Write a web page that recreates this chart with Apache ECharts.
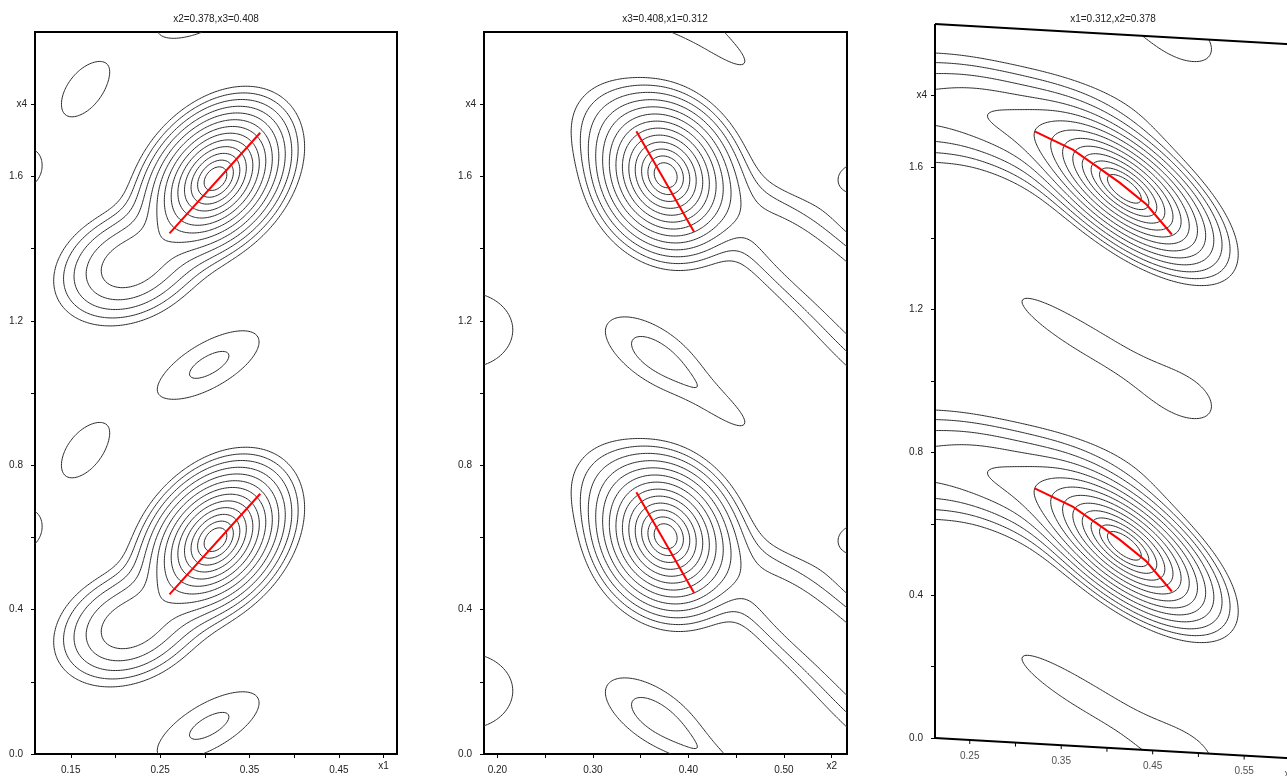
<!DOCTYPE html>
<html><head><meta charset="utf-8">
<script src="https://cdn.jsdelivr.net/npm/echarts@6/dist/echarts.min.js"></script>
<style>html,body{margin:0;padding:0;background:#fff;overflow:hidden}#c{width:1330px;height:830px}</style>
</head><body><div id="c"></div>
<script>
// ---------------- data ----------------
const titles = ['x2=0.378,x3=0.408', 'x3=0.408,x1=0.312', 'x1=0.312,x2=0.378'];
const axisNames = ['x1', 'x2', 'x3'];
const xRange1 = [0.11, 0.515];
const xRange2 = [0.186, 0.566];
const xRange3 = [0.212, 0.61];
const x4Range = [0, 2];
const xTicks1 = [0.15, 0.20, 0.25, 0.30, 0.35, 0.40, 0.45, 0.50];
const xLabels1 = [0.15, 0.25, 0.35, 0.45, 0.50];
const xTicks2 = [0.20, 0.25, 0.30, 0.35, 0.40, 0.45, 0.50, 0.55];
const xLabels2 = [0.20, 0.30, 0.40, 0.50, 0.55];
const xTicks3 = [0.25, 0.30, 0.35, 0.40, 0.45, 0.50, 0.55, 0.60];
const xLabels3 = [0.25, 0.35, 0.45, 0.55, 0.60];
const yTicks = [0, 0.2, 0.4, 0.6, 0.8, 1.0, 1.2, 1.4, 1.6, 1.8];
const yLabels = [0, 0.4, 0.8, 1.2, 1.6, 1.8];
const contourLevels = [0.023, 0.039, 0.063, 0.099, 0.149, 0.216, 0.301, 0.402, 0.516, 0.637, 0.755, 0.860, 0.941];
// density maxima: [centre x, centre x4, major axis dx, major axis dx4, minor axis dx, minor axis dx4, height]  (period 1 in x4)
const peaks1 = [
  [0.312, 0.594, 0.0286, 0.0788, -0.0223, 0.0496, 1.0],
  [0.2155, 0.3546, 0.0386, 0.0445, -0.0128, 0.0678, 0.20],
  [0.305, 0.078, 0.0485, 0.0693, -0.0112, 0.0480, 0.043],
  [0.165, 0.838, 0.0270, 0.0885, -0.0206, 0.0384, 0.03],
  [0.092, 0.617, 0.030, 0, 0, 0.070, 0.03]
];
const peaks2 = [
  [0.376, 0.603, 0.0188, -0.0864, 0.0272, 0.0416, 1.0],
  [0.313, 0.756, 0.0314, 0, 0, 0.083, 0.03],
  [0.365, 0.105, 0.0386, -0.0715, 0.0132, 0.0499, 0.045],
  [0.439, 0.953, 0.0330, -0.0683, 0.0077, 0.0262, 0.025],
  [0.5016, 0.41, 0.0481, -0.1069, 0.0168, 0.0530, 0.075],
  [0.601, 0.1745, 0.0518, -0.1371, 0.0222, 0.0588, 0.085],
  [0.580, 0.596, 0.0377, 0, 0, 0.072, 0.027],
  [0.1665, 0.1745, 0.068, 0, 0, 0.144, 0.03]
];
const peaks3 = [
  [0.4205, 0.566, 0.0425, -0.0790, 0.0141, 0.0499, 1.0],
  [0.15, 0.759, 0.15, 0, 0, 0.084, 0.11],
  [0.3156, 0.692, 0.0579, -0.0788, 0.0128, 0.0618, 0.09],
  [0.3593, 0.164, 0.0757, -0.1120, 0.0098, 0.0437, 0.029],
  [0.4304, 0.077, 0.0379, -0.0560, 0.0066, 0.0291, 0.008],
  [0.4851, 0.0006, 0.0347, -0.0415, 0.0102, 0.0558, 0.026]
];
const redLine1 = [[0.2605, 0.442], [0.362, 0.721]];
const redLine2 = [[0.3455, 0.725], [0.406, 0.446]];
const redLine3 = [[0.321, 0.715], [0.3626, 0.670], [0.3888, 0.627], [0.4139, 0.585], [0.4433, 0.528], [0.471, 0.448]];
const shear3 = 0.1455; // oblique section: x4 offset per unit of x3

// ---------------- contouring ----------------
function isolines(f, nx, ny, x0, y0, dx, dy, L) {
  const W = nx + 1, segs = [], pts = new Map(), adj = new Map();
  const H = (i, j) => (j * W + i) * 2, V = (i, j) => (j * W + i) * 2 + 1;
  function pt(id) {
    if (pts.has(id)) return;
    const base = id >> 1, i = base % W, j = (base - i) / W;
    if ((id & 1) === 0) { const a = f[j * W + i], b = f[j * W + i + 1], t = (L - a) / (b - a); pts.set(id, [x0 + (i + t) * dx, y0 + j * dy]); }
    else { const a = f[j * W + i], b = f[(j + 1) * W + i], t = (L - a) / (b - a); pts.set(id, [x0 + i * dx, y0 + (j + t) * dy]); }
  }
  function add(e1, e2) {
    pt(e1); pt(e2); const k = segs.length; segs.push([e1, e2]);
    if (!adj.has(e1)) adj.set(e1, []); adj.get(e1).push(k);
    if (!adj.has(e2)) adj.set(e2, []); adj.get(e2).push(k);
  }
  for (let j = 0; j < ny; j++) for (let i = 0; i < nx; i++) {
    const a = f[j * W + i], b = f[j * W + i + 1], c = f[(j + 1) * W + i + 1], d = f[(j + 1) * W + i];
    const idx = (a >= L ? 1 : 0) | (b >= L ? 2 : 0) | (c >= L ? 4 : 0) | (d >= L ? 8 : 0);
    if (idx === 0 || idx === 15) continue;
    const eB = H(i, j), eR = V(i + 1, j), eT = H(i, j + 1), eL = V(i, j);
    switch (idx) {
      case 1: case 14: add(eL, eB); break;
      case 2: case 13: add(eB, eR); break;
      case 3: case 12: add(eL, eR); break;
      case 4: case 11: add(eR, eT); break;
      case 6: case 9: add(eB, eT); break;
      case 7: case 8: add(eL, eT); break;
      case 5: { const m = (a + b + c + d) / 4; if (m >= L) { add(eB, eR); add(eT, eL); } else { add(eL, eB); add(eR, eT); } break; }
      case 10: { const m = (a + b + c + d) / 4; if (m >= L) { add(eL, eB); add(eR, eT); } else { add(eB, eR); add(eT, eL); } break; }
    }
  }
  const used = new Uint8Array(segs.length), lines = [];
  function walk(start, s) {
    const line = [pts.get(start)]; let cur = start;
    while (s >= 0) {
      used[s] = 1; const nxt = segs[s][0] === cur ? segs[s][1] : segs[s][0];
      line.push(pts.get(nxt)); cur = nxt; s = -1;
      for (const k of adj.get(cur)) if (!used[k]) { s = k; break; }
    }
    return line;
  }
  for (const [e, list] of adj) if (list.length === 1 && !used[list[0]]) lines.push(walk(e, list[0]));
  for (let s = 0; s < segs.length; s++) if (!used[s]) lines.push(walk(segs[s][0], s));
  return lines;
}
function buildContours(peaks, xr, nx, ny) {
  const W = nx + 1, dx = (xr[1] - xr[0]) / nx, dy = (x4Range[1] - x4Range[0]) / ny;
  const f = new Float64Array(W * (ny + 1));
  const P = peaks.map(([cx, cy, ax, ay, bx, by, amp]) => ({ cx, cy, ax, ay, bx, by, amp, det: ax * by - ay * bx }));
  for (let j = 0; j <= ny; j++) {
    const y = x4Range[0] + j * dy;
    for (let i = 0; i <= nx; i++) {
      const x = xr[0] + i * dx; let s = 0;
      for (const p of P) {
        const ddx = x - p.cx;
        for (let n = -2; n <= 3; n++) {
          const ddy = y - p.cy - n;
          const u = (ddx * p.by - ddy * p.bx) / p.det, v = (p.ax * ddy - p.ay * ddx) / p.det, r2 = u * u + v * v;
          if (r2 < 50) s += p.amp * Math.exp(-0.5 * r2);
        }
      }
      f[j * W + i] = s;
    }
  }
  const out = [];
  for (const L of contourLevels) out.push(...isolines(f, nx, ny, xr[0], x4Range[0], dx, dy, L));
  return out;
}

// ---------------- chart ----------------
const FONT = '"Liberation Sans", Arial, sans-serif';
const TXT = '#222';
const near = (a, b) => Math.abs(a - b) < 1e-6;
const xRanges = [xRange1, xRange2, xRange3];
const xTicksAll = [xTicks1, xTicks2, xTicks3];
const xLabelsAll = [xLabels1, xLabels2, xLabels3];
const peaksAll = [peaks1, peaks2, peaks3];
const redAll = [redLine1, redLine2, redLine3];
const shearOf = (p) => p === 2 ? (pt) => [pt[0], pt[1] - shear3 * (pt[0] - xRange3[0])] : (pt) => pt;
const txtStyle = { fontSize: 10, color: TXT, fontFamily: FONT };

const grids = [
  { left: 35, top: 32, width: 362, height: 722, show: true, borderColor: '#000', borderWidth: 2 },
  { left: 484, top: 32, width: 363, height: 722, show: true, borderColor: '#000', borderWidth: 2 },
  { left: 935, top: 24, width: 364, height: 785.4, show: false }
];
const xAxes = [0, 1, 2].map(p => ({
  type: 'value', gridIndex: p, min: xRanges[p][0], max: xRanges[p][1], show: p !== 2,
  splitLine: { show: false },
  axisLine: { show: true, onZero: false, lineStyle: { color: '#000', width: 2 } },
  axisTick: { show: true, inside: false, length: 4, customValues: xTicksAll[p], lineStyle: { color: '#000', width: 1 } },
  axisLabel: { show: true, customValues: xLabelsAll[p], margin: 7, ...txtStyle,
    rich: { v: { ...txtStyle, padding: [4, 0, 0, 0] }, n: { ...txtStyle } },
    formatter: v => near(v, xLabelsAll[p][xLabelsAll[p].length - 1]) ? '{n|' + axisNames[p] + '}' : '{v|' + v.toFixed(2) + '}' }
}));
const yAxes = [0, 1, 2].map(p => ({
  type: 'value', gridIndex: p, min: p === 2 ? -0.2 : 0, max: 2, interval: 0.2,
  splitLine: { show: false },
  axisLine: { show: p !== 2, onZero: false, lineStyle: { color: '#000', width: 2 } },
  axisTick: { show: true, inside: false, length: 4, customValues: yTicks, lineStyle: { color: '#000', width: 1 } },
  axisLabel: { show: true, customValues: yLabels, margin: 8, ...txtStyle,
    rich: { v: { ...txtStyle, padding: [0, 4, 0, 0] }, n: { ...txtStyle } },
    formatter: v => near(v, 1.8) ? '{n|x4}' : '{v|' + v.toFixed(1) + '}' }
}));

const series = [];
for (let p = 0; p < 3; p++) {
  const tr = shearOf(p);
  const polys = buildContours(peaksAll[p], xRanges[p], 220, 440).map(l => ({ coords: l.map(tr) }));
  series.push({ type: 'lines', coordinateSystem: 'cartesian2d', xAxisIndex: p, yAxisIndex: p, polyline: true,
    silent: true, z: 2, lineStyle: { color: '#2a2a2a', width: 1, opacity: 1 }, data: polys });
  const reds = [0, 1].map(k => ({ coords: redAll[p].map(q => tr([q[0], q[1] + k])) }));
  series.push({ type: 'lines', coordinateSystem: 'cartesian2d', xAxisIndex: p, yAxisIndex: p, polyline: true,
    silent: true, z: 3, lineStyle: { color: '#ff0000', width: 2, opacity: 1 }, data: reds });
}
// frame, ticks and labels of the oblique third panel
{
  const tr = shearOf(2), a = xRange3[0], b = xRange3[1];
  const frame = [[[a, 0], [a, 2]], [[a, 2], [b, 2]], [[a, 0], [b, 0]], [[b, 0], [b, 2]]].map(s => ({ coords: s.map(tr) }));
  series.push({ type: 'lines', coordinateSystem: 'cartesian2d', xAxisIndex: 2, yAxisIndex: 2, polyline: true,
    silent: true, z: 4, lineStyle: { color: '#000', width: 2, opacity: 1 }, data: frame });
  const tickLen = 4 / 357;
  series.push({ type: 'lines', coordinateSystem: 'cartesian2d', xAxisIndex: 2, yAxisIndex: 2, polyline: true,
    silent: true, z: 4, lineStyle: { color: '#000', width: 1, opacity: 1 },
    data: xTicks3.map(v => ({ coords: [tr([v, 0]), tr([v, -tickLen])] })) });
  series.push({ type: 'scatter', xAxisIndex: 2, yAxisIndex: 2, silent: true, symbolSize: 0, z: 4,
    itemStyle: { color: 'rgba(0,0,0,0)' },
    label: { show: true, position: 'bottom', distance: 11, ...txtStyle,
      formatter: d => near(d.value[0], 0.60) ? axisNames[2] : d.value[0].toFixed(2) },
    data: xLabels3.map(v => tr([v, 0])) });
}

const chart = echarts.init(document.getElementById('c'), null, { renderer: 'canvas' });
chart.setOption({
  animation: false,
  backgroundColor: '#fff',
  title: titles.map((t, i) => ({ text: t, left: [216, 665, 1113][i], top: 14, textAlign: 'center', padding: 0,
    textStyle: { fontSize: 10, fontWeight: 'normal', color: TXT, fontFamily: FONT } })),
  grid: grids, xAxis: xAxes, yAxis: yAxes, series
});
</script></body></html>
